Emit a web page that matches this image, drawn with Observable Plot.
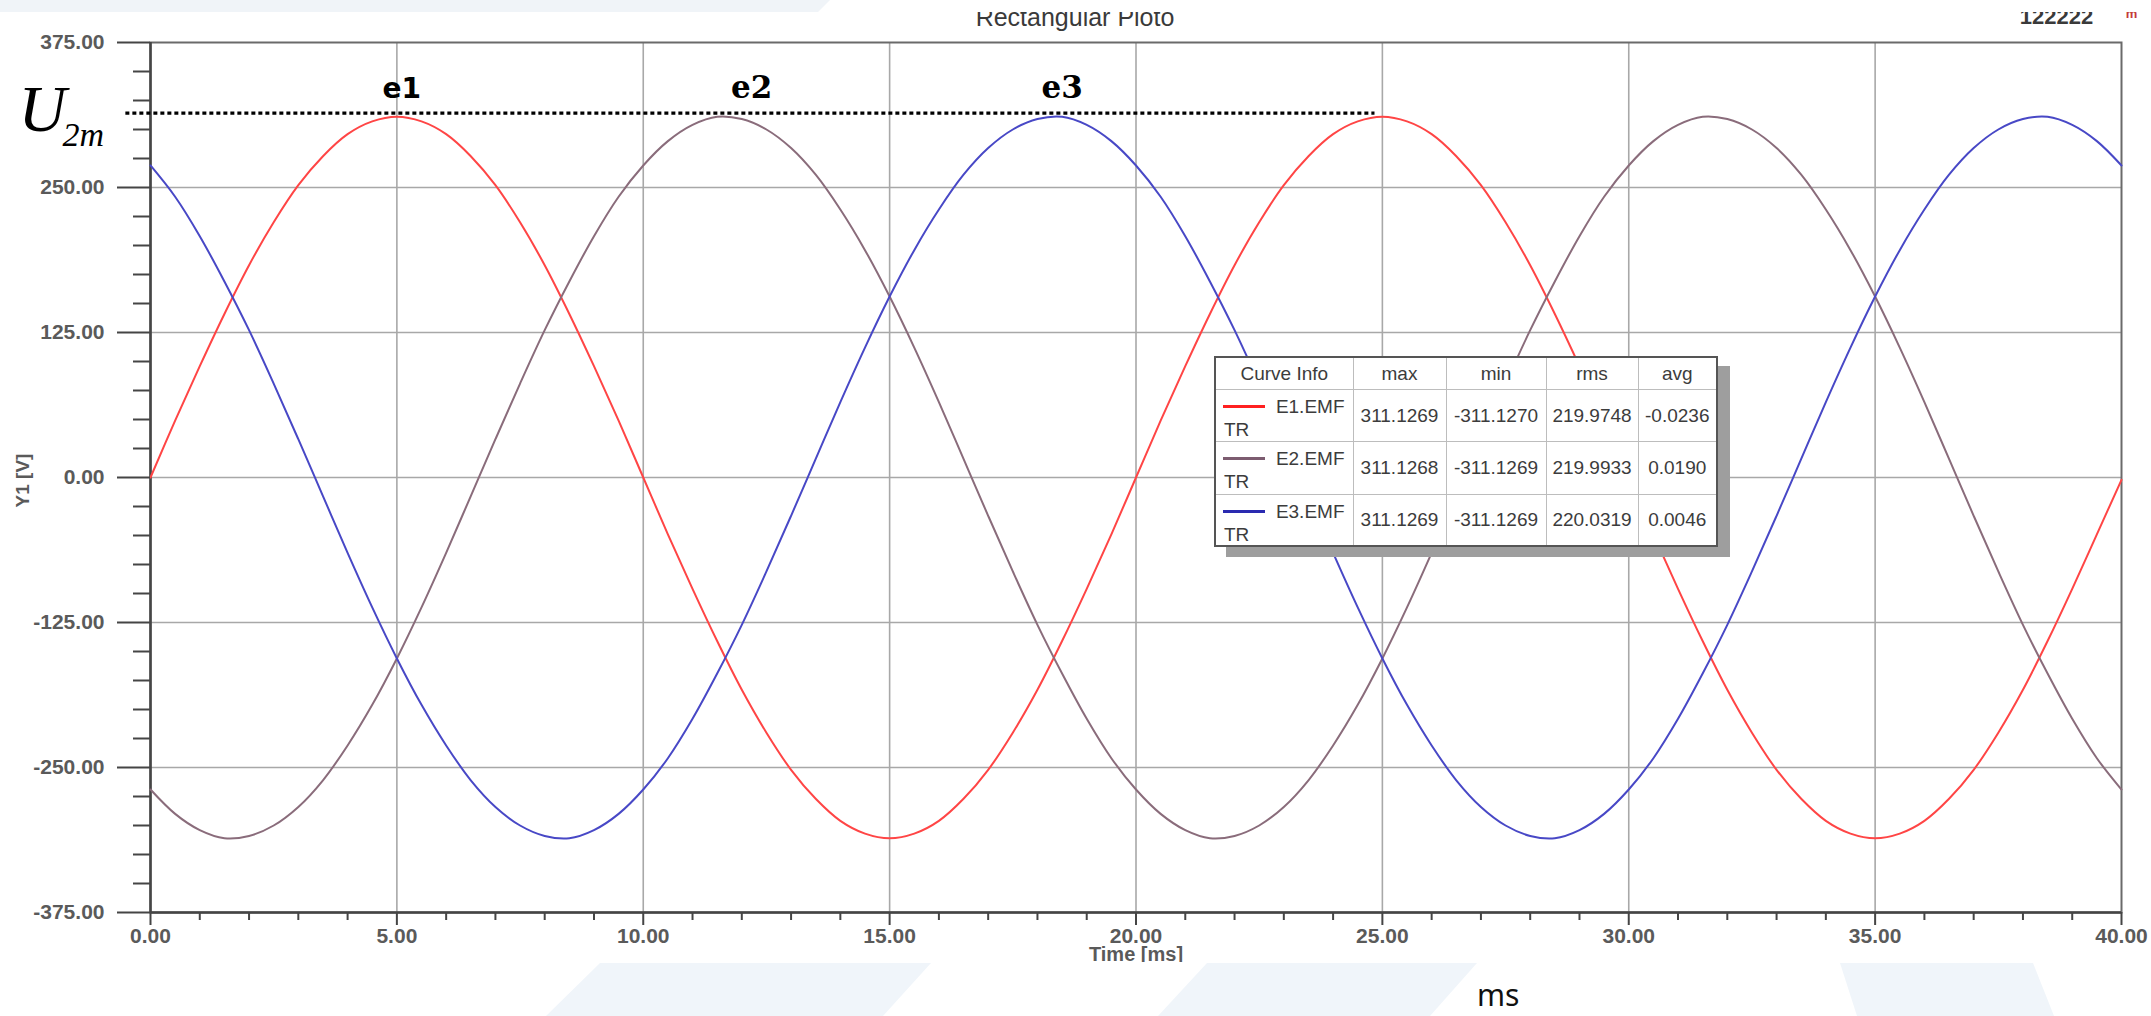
<!DOCTYPE html>
<html><head><meta charset="utf-8">
<script src="https://cdn.jsdelivr.net/npm/d3@7"></script>
<script src="https://cdn.jsdelivr.net/npm/@observablehq/plot@0.6"></script>
<style>
html,body{margin:0;padding:0;background:#fff;width:2151px;height:1016px;overflow:hidden;position:relative;}
#deco{position:absolute;left:0;top:0;z-index:0}
#chart{position:absolute;left:0;top:12px;z-index:1}
#legend{position:absolute;left:1214px;top:356px;z-index:2}
#legend table{border-collapse:collapse;table-layout:fixed;width:502px;border:2px solid #555;background:#fff;box-shadow:12px 10px 0 #9e9e9e;font:19px "Liberation Sans",Arial,sans-serif;color:#3c3c3c;}
#legend th,#legend td{border:1.5px solid #bdbdbd;padding:0;text-align:center;vertical-align:middle;font-weight:normal;white-space:nowrap;line-height:19px;}
#legend td.info{position:relative;}
#legend .sw{position:absolute;left:7px;top:15px;width:42px;height:3px;}
#legend .nm{position:absolute;right:8px;top:7px;}
#legend .tr{position:absolute;left:8px;top:30px;}
</style></head><body>
<svg id="deco" width="2151" height="1016">
  <polygon points="0,0 830,0 818,12 0,12" fill="#f0f4f8"/>
  <polygon points="600,963 931,963 883,1016 546,1016" fill="#f0f5fa"/>
  <polygon points="1207,963 1477,963 1430,1016 1158,1016" fill="#f0f5fa"/>
  <polygon points="1840,963 2033,963 2054,1016 1857,1016" fill="#f0f5fa"/>
  <text x="1477" y="1006" font-family="Noto Sans" font-size="30" fill="#111">ms</text>
</svg>
<div id="chart"></div>
<div id="legend"></div>
<script>
// ---- data ----
const time = [0,0.5,1,1.5,2,2.5,3,3.5,4,4.5,5,5.5,6,6.5,7,7.5,8,8.5,9,9.5,10,10.5,11,11.5,12,12.5,13,13.5,14,14.5,15,15.5,16,16.5,17,17.5,18,18.5,19,19.5,20,20.5,21,21.5,22,22.5,23,23.5,24,24.5,25,25.5,26,26.5,27,27.5,28,28.5,29,29.5,30,30.5,31,31.5,32,32.5,33,33.5,34,34.5,35,35.5,36,36.5,37,37.5,38,38.5,39,39.5,40];
const e1 = [0,49,96,141,183,220,252,277,296,307,311,307,296,277,252,220,183,141,96,49,0,-49,-96,-141,-183,-220,-252,-277,-296,-307,-311,-307,-296,-277,-252,-220,-183,-141,-96,-49,
            0,49,96,141,183,220,252,277,296,307,311,307,296,277,252,220,183,141,96,49,0,-49,-96,-141,-183,-220,-252,-277,-296,-307,-311,-307,-296,-277,-252,-220,-183,-141,-96,-49,-2];
const e2 = [-269,-290,-304,-311,-309,-300,-284,-261,-231,-196,-156,-112,-65,-16,33,81,127,169,208,242,269,290,304,311,309,300,284,261,231,196,156,112,65,16,-33,-81,-127,-169,-208,-242,
            -269,-290,-304,-311,-309,-300,-284,-261,-231,-196,-156,-112,-65,-16,33,81,127,169,208,242,269,290,304,311,309,300,284,261,231,196,156,112,65,16,-33,-81,-127,-169,-208,-242,-269];
const e3 = [269,242,208,169,127,81,33,-16,-65,-112,-156,-196,-231,-261,-284,-300,-309,-311,-304,-290,-269,-242,-208,-169,-127,-81,-33,16,65,112,156,196,231,261,284,300,309,311,304,290,
            269,242,208,169,127,81,33,-16,-65,-112,-156,-196,-231,-261,-284,-300,-309,-311,-304,-290,-269,-242,-208,-169,-127,-81,-33,16,65,112,156,196,231,261,284,300,309,311,304,290,269];
const seriesNames = ["E1.EMF","E2.EMF","E3.EMF"];
const seriesColors = ["#ff4545","#8a6c7b","#4848c6"];
const swatchColors = ["#ff2020","#7c5c70","#2a2ab0"];
const xMajorTicks = [0,5,10,15,20,25,30,35,40];
const xMinorTicks = [1,2,3,4,6,7,8,9,11,12,13,14,16,17,18,19,21,22,23,24,26,27,28,29,31,32,33,34,36,37,38,39];
const yMajorTicks = [-375,-250,-125,0,125,250,375];
const yMinorTicks = [-350,-325,-300,-275,-225,-200,-175,-150,-100,-75,-50,-25,25,50,75,100,150,175,200,225,275,300,325,350];
const peakLabels = ["e1","e2","e3"];
const peakLabelTimes = [5.1,12.2,18.5];
const U2m = 311.13;
const dottedSpan = [-0.5,24.85];
const tableHeaders = ["Curve Info","max","min","rms","avg"];
const maxVals = ["311.1269","311.1268","311.1269"];
const minVals = ["-311.1270","-311.1269","-311.1269"];
const rmsVals = ["219.9748","219.9933","220.0319"];
const avgVals = ["-0.0236","0.0190","0.0046"];

// ---- build ----
const seriesValues = [e1,e2,e3];
const rows = [];
seriesNames.forEach((s,j)=>time.forEach((t,i)=>rows.push({t, v: seriesValues[j][i], s})));
const peakRows = peakLabels.map((l,i)=>({l, t: peakLabelTimes[i], v: U2m}));
const gray = "#5a5a5a", dark = "#454545";

const plot = Plot.plot({
  width: 2151, height: 950,
  marginLeft: 150, marginRight: 30, marginTop: 30, marginBottom: 50,
  x: {domain: [0,40], label: null},
  y: {domain: [-375,375], label: null},
  color: {domain: seriesNames, range: seriesColors},
  style: {background: "transparent", overflow: "hidden", fontFamily: "'Liberation Sans', Arial, sans-serif"},
  marks: [
    Plot.gridX(xMajorTicks.slice(1,-1), {stroke:"#a8a8a8", strokeOpacity:1, strokeWidth:1.6}),
    Plot.gridY(yMajorTicks.slice(1,-1), {stroke:"#a8a8a8", strokeOpacity:1, strokeWidth:1.6}),
    Plot.frame({stroke:"#6a6a6a", strokeWidth:2}),
    Plot.ruleX([0], {stroke:dark, strokeWidth:2.5}),
    Plot.ruleY([-375], {stroke:dark, strokeWidth:2.5}),
    Plot.line(rows, {x:"t", y:"v", stroke:"s", z:"s", strokeWidth:2, curve:"catmull-rom"}),
    Plot.axisY(yMajorTicks, {tickSize:33, tickPadding:13, tickFormat:d=>d.toFixed(2), fontSize:21, fontWeight:"bold", fill:gray, stroke:dark, strokeWidth:2, label:null}),
    Plot.axisY(yMinorTicks, {tickSize:17, tickFormat:()=>"", stroke:dark, strokeWidth:2, label:null}),
    Plot.axisX(xMajorTicks, {tickSize:13, tickPadding:3, tickFormat:d=>d.toFixed(2), fontSize:21, fontWeight:"bold", fill:gray, stroke:dark, strokeWidth:2, label:null}),
    Plot.axisX(xMinorTicks, {tickSize:8, tickFormat:()=>"", stroke:dark, strokeWidth:2, label:null}),
    Plot.text(["Y1 [V]"], {frameAnchor:"left", textAnchor:"middle", lineAnchor:"middle", rotate:-90, dx:-128, dy:3, fontSize:19, fontWeight:"bold", fill:gray}),
    Plot.text(["Time [ms]"], {frameAnchor:"bottom", textAnchor:"middle", lineAnchor:"bottom", dy:48, fontSize:20, fontWeight:"bold", fill:gray}),
    Plot.text(["Rectangular Ploto"], {frameAnchor:"top", textAnchor:"middle", lineAnchor:"bottom", dx:-61, dy:-17, fontSize:25, fill:"#3a3a3a"}),
    Plot.text(["122222"], {frameAnchor:"top-right", textAnchor:"middle", lineAnchor:"bottom", dx:-65, dy:-19, fontSize:22, fontWeight:"bold", fill:"#3a3a3a"}),
    Plot.text(["m"], {frameAnchor:"top-right", textAnchor:"middle", lineAnchor:"bottom", dx:10, dy:-25, fontSize:13, fontWeight:"bold", fill:"#c43c3c"}),
    Plot.ruleY([U2m], {x1:dottedSpan[0], x2:dottedSpan[1], dy:-3.4, stroke:"#000", strokeWidth:3.2, strokeDasharray:"4,3"}),
    Plot.text(peakRows.filter(d=>d.l==="e1"), {x:"t", y:"v", text:"l", textAnchor:"middle", lineAnchor:"bottom", dy:-19, fontFamily:"DejaVu Sans", fontWeight:"bold", fontSize:28, fill:"#000"}),
    Plot.text(peakRows.filter(d=>d.l!=="e1"), {x:"t", y:"v", text:"l", textAnchor:"middle", lineAnchor:"bottom", dy:-19, fontFamily:"DejaVu Serif", fontWeight:"bold", fontSize:31, fill:"#000"}),
    Plot.text(["U"], {frameAnchor:"top-left", textAnchor:"start", lineAnchor:"bottom", dx:-132, dy:88, fontFamily:"Liberation Serif", fontStyle:"italic", fontSize:66, fill:"#000"}),
    Plot.text(["2m"], {frameAnchor:"top-left", textAnchor:"start", lineAnchor:"bottom", dx:-88, dy:103, fontFamily:"Liberation Serif", fontStyle:"italic", fontSize:34, fill:"#000"})
  ]
});
document.getElementById("chart").appendChild(plot);

// ---- legend table ----
const colW = [138,93,100,92,79];
const rowH = [52,53,52];
let html = "<table><colgroup>" + colW.map(w=>`<col style="width:${w}px">`).join("") + "</colgroup>";
html += `<tr style="height:32px">` + tableHeaders.map(h=>`<th>${h}</th>`).join("") + "</tr>";
seriesNames.forEach((n,i)=>{
  html += `<tr style="height:${rowH[i]}px"><td class="info"><span class="sw" style="background:${swatchColors[i]}"></span><span class="nm">${n}</span><span class="tr">TR</span></td>` +
    `<td>${maxVals[i]}</td><td>${minVals[i]}</td><td>${rmsVals[i]}</td><td>${avgVals[i]}</td></tr>`;
});
html += "</table>";
document.getElementById("legend").innerHTML = html;
</script>
</body></html>
